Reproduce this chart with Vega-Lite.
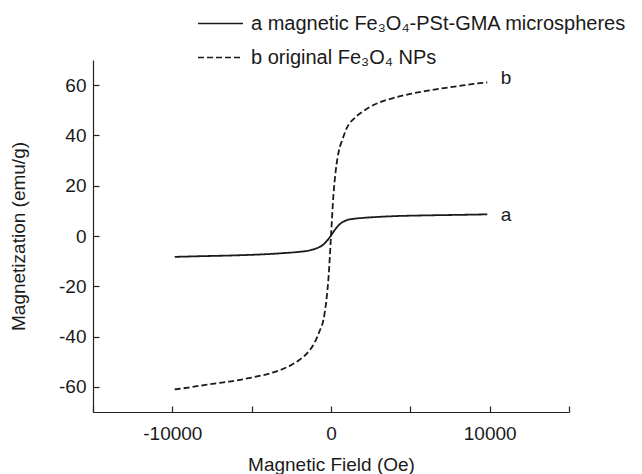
{
  "$schema": "https://vega.github.io/schema/vega-lite/v6.json",
  "width": 476,
  "height": 352,
  "autosize": {"type": "none"},
  "padding": {"left": 93, "top": 60, "right": 73, "bottom": 62},
  "background": "white",
  "config": {
    "view": {"stroke": null},
    "font": "Liberation Sans",
    "axis": {
      "grid": false,
      "domainColor": "#222",
      "domainWidth": 1.2,
      "tickColor": "#222",
      "tickWidth": 1.2,
      "labelFont": "Liberation Sans",
      "labelFontSize": 19,
      "labelColor": "#1a1a1a",
      "titleFont": "Liberation Sans",
      "titleFontSize": 19,
      "titleFontWeight": "normal",
      "titleColor": "#1a1a1a"
    }
  },
  "datasets": {
    "curves": [
      {"H": -9850, "M": -61.0, "sample": "b original Fe₃O₄ NPs"},
      {"H": -9000, "M": -60.3, "sample": "b original Fe₃O₄ NPs"},
      {"H": -8000, "M": -59.3, "sample": "b original Fe₃O₄ NPs"},
      {"H": -7000, "M": -58.4, "sample": "b original Fe₃O₄ NPs"},
      {"H": -6000, "M": -57.5, "sample": "b original Fe₃O₄ NPs"},
      {"H": -5000, "M": -56.3, "sample": "b original Fe₃O₄ NPs"},
      {"H": -4000, "M": -54.9, "sample": "b original Fe₃O₄ NPs"},
      {"H": -3000, "M": -52.8, "sample": "b original Fe₃O₄ NPs"},
      {"H": -2500, "M": -51.3, "sample": "b original Fe₃O₄ NPs"},
      {"H": -2000, "M": -49.3, "sample": "b original Fe₃O₄ NPs"},
      {"H": -1500, "M": -46.6, "sample": "b original Fe₃O₄ NPs"},
      {"H": -1000, "M": -42.0, "sample": "b original Fe₃O₄ NPs"},
      {"H": -700, "M": -37.5, "sample": "b original Fe₃O₄ NPs"},
      {"H": -500, "M": -34.0, "sample": "b original Fe₃O₄ NPs"},
      {"H": -300, "M": -26.0, "sample": "b original Fe₃O₄ NPs"},
      {"H": -150, "M": -16.0, "sample": "b original Fe₃O₄ NPs"},
      {"H": 0, "M": 0, "sample": "b original Fe₃O₄ NPs"},
      {"H": 150, "M": 16.0, "sample": "b original Fe₃O₄ NPs"},
      {"H": 300, "M": 26.0, "sample": "b original Fe₃O₄ NPs"},
      {"H": 500, "M": 34.0, "sample": "b original Fe₃O₄ NPs"},
      {"H": 700, "M": 38.0, "sample": "b original Fe₃O₄ NPs"},
      {"H": 1000, "M": 43.0, "sample": "b original Fe₃O₄ NPs"},
      {"H": 1500, "M": 47.0, "sample": "b original Fe₃O₄ NPs"},
      {"H": 2000, "M": 49.5, "sample": "b original Fe₃O₄ NPs"},
      {"H": 2500, "M": 51.5, "sample": "b original Fe₃O₄ NPs"},
      {"H": 3000, "M": 53.0, "sample": "b original Fe₃O₄ NPs"},
      {"H": 4000, "M": 55.0, "sample": "b original Fe₃O₄ NPs"},
      {"H": 5000, "M": 56.5, "sample": "b original Fe₃O₄ NPs"},
      {"H": 6000, "M": 57.7, "sample": "b original Fe₃O₄ NPs"},
      {"H": 7000, "M": 58.7, "sample": "b original Fe₃O₄ NPs"},
      {"H": 8000, "M": 59.6, "sample": "b original Fe₃O₄ NPs"},
      {"H": 9000, "M": 60.5, "sample": "b original Fe₃O₄ NPs"},
      {"H": 9850, "M": 61.1, "sample": "b original Fe₃O₄ NPs"},
      {"H": -9850, "M": -8.3, "sample": "a magnetic Fe₃O₄-PSt-GMA microspheres"},
      {"H": -8000, "M": -8.0, "sample": "a magnetic Fe₃O₄-PSt-GMA microspheres"},
      {"H": -6000, "M": -7.7, "sample": "a magnetic Fe₃O₄-PSt-GMA microspheres"},
      {"H": -4000, "M": -7.2, "sample": "a magnetic Fe₃O₄-PSt-GMA microspheres"},
      {"H": -3000, "M": -6.8, "sample": "a magnetic Fe₃O₄-PSt-GMA microspheres"},
      {"H": -2000, "M": -6.3, "sample": "a magnetic Fe₃O₄-PSt-GMA microspheres"},
      {"H": -1500, "M": -5.9, "sample": "a magnetic Fe₃O₄-PSt-GMA microspheres"},
      {"H": -1000, "M": -5.1, "sample": "a magnetic Fe₃O₄-PSt-GMA microspheres"},
      {"H": -700, "M": -4.3, "sample": "a magnetic Fe₃O₄-PSt-GMA microspheres"},
      {"H": -500, "M": -3.5, "sample": "a magnetic Fe₃O₄-PSt-GMA microspheres"},
      {"H": -300, "M": -2.2, "sample": "a magnetic Fe₃O₄-PSt-GMA microspheres"},
      {"H": -150, "M": -1.1, "sample": "a magnetic Fe₃O₄-PSt-GMA microspheres"},
      {"H": 0, "M": 0.2, "sample": "a magnetic Fe₃O₄-PSt-GMA microspheres"},
      {"H": 150, "M": 1.6, "sample": "a magnetic Fe₃O₄-PSt-GMA microspheres"},
      {"H": 300, "M": 2.9, "sample": "a magnetic Fe₃O₄-PSt-GMA microspheres"},
      {"H": 500, "M": 4.4, "sample": "a magnetic Fe₃O₄-PSt-GMA microspheres"},
      {"H": 700, "M": 5.4, "sample": "a magnetic Fe₃O₄-PSt-GMA microspheres"},
      {"H": 1000, "M": 6.3, "sample": "a magnetic Fe₃O₄-PSt-GMA microspheres"},
      {"H": 1500, "M": 6.9, "sample": "a magnetic Fe₃O₄-PSt-GMA microspheres"},
      {"H": 2000, "M": 7.2, "sample": "a magnetic Fe₃O₄-PSt-GMA microspheres"},
      {"H": 3000, "M": 7.6, "sample": "a magnetic Fe₃O₄-PSt-GMA microspheres"},
      {"H": 4000, "M": 7.9, "sample": "a magnetic Fe₃O₄-PSt-GMA microspheres"},
      {"H": 6000, "M": 8.2, "sample": "a magnetic Fe₃O₄-PSt-GMA microspheres"},
      {"H": 8000, "M": 8.4, "sample": "a magnetic Fe₃O₄-PSt-GMA microspheres"},
      {"H": 9850, "M": 8.6, "sample": "a magnetic Fe₃O₄-PSt-GMA microspheres"}
    ],
    "labels": [
      {"H": 10700, "M": 8.4, "label": "a"},
      {"H": 10700, "M": 62.8, "label": "b"}
    ]
  },
  "layer": [
    {
      "data": {"name": "curves"},
      "mark": {"type": "line", "strokeWidth": 1.8, "color": "#1a1a1a", "interpolate": "monotone"},
      "encoding": {
        "x": {
          "field": "H", "type": "quantitative",
          "scale": {"domain": [-15000, 15000], "nice": false, "zero": false},
          "axis": {
            "title": "Magnetic Field (Oe)",
            "values": [-15000, -10000, -5000, 0, 5000, 10000, 15000],
            "labelExpr": "abs(datum.value) % 10000 == 0 ? '' + datum.value : ''",
            "tickSize": -6,
            "labelPadding": 18,
            "titlePadding": 12
          }
        },
        "y": {
          "field": "M", "type": "quantitative",
          "scale": {"domain": [-70, 70], "nice": false, "zero": false},
          "axis": {
            "title": "Magnetization (emu/g)",
            "values": [-60, -40, -20, 0, 20, 40, 60],
            "labelExpr": "'' + datum.value",
            "tickSize": -6,
            "labelPadding": 13,
            "titlePadding": 30
          }
        },
        "strokeDash": {
          "field": "sample", "type": "nominal",
          "scale": {
            "domain": ["a magnetic Fe₃O₄-PSt-GMA microspheres", "b original Fe₃O₄ NPs"],
            "range": [[1, 0], [6, 3]]
          },
          "legend": {
            "title": null,
            "orient": "none",
            "legendX": 104,
            "legendY": -60,
            "padding": 0,
            "symbolType": "stroke",
            "symbolSize": 2025,
            "symbolStrokeWidth": 1.5,
            "symbolStrokeColor": "#1a1a1a",
            "labelFont": "Liberation Sans",
            "labelFontSize": 20,
            "labelColor": "#1a1a1a",
            "labelOffset": 7,
            "labelLimit": 500,
            "rowPadding": 0
          }
        }
      }
    },
    {
      "data": {"name": "labels"},
      "mark": {"type": "text", "align": "left", "baseline": "middle", "fontSize": 19, "font": "Liberation Sans", "color": "#1a1a1a"},
      "encoding": {
        "x": {"field": "H", "type": "quantitative"},
        "y": {"field": "M", "type": "quantitative"},
        "text": {"field": "label"}
      }
    }
  ]
}
